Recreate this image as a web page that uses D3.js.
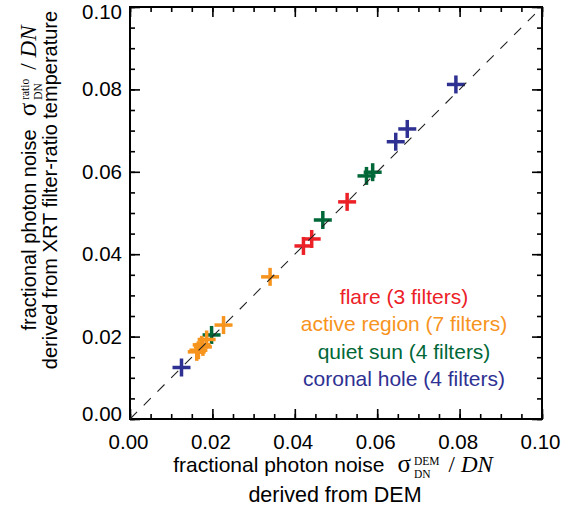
<!DOCTYPE html>
<html><head><meta charset="utf-8">
<script src="https://cdn.jsdelivr.net/npm/d3@7"></script>
<style>
body{margin:0;background:#fff;}
svg{display:block;}
</style></head>
<body>
<svg id="chart" width="564" height="512"></svg>
<script>
// ---- data ----
const seriesNames = ["coronal hole (4 filters)", "quiet sun (4 filters)", "active region (7 filters)", "flare (3 filters)"];
const seriesColors = ["#2e3192", "#006838", "#f7941e", "#ec2127"];
const coronalHoleX = [0.0791, 0.0673, 0.0645, 0.0125];
const coronalHoleY = [0.0812, 0.0704, 0.0673, 0.0125];
const quietSunX = [0.0574, 0.0589, 0.0468, 0.0198];
const quietSunY = [0.0590, 0.0599, 0.0483, 0.0204];
const activeRegionX = [0.0340, 0.0227, 0.0186, 0.0177, 0.0174, 0.0166, 0.0162];
const activeRegionY = [0.0345, 0.0228, 0.0193, 0.0175, 0.0180, 0.0167, 0.0163];
const flareX = [0.0527, 0.0441, 0.0421];
const flareY = [0.0527, 0.0437, 0.0420];
const legendOrder = ["flare (3 filters)", "active region (7 filters)", "quiet sun (4 filters)", "coronal hole (4 filters)"];
const majorTicks = [0, 0.02, 0.04, 0.06, 0.08, 0.10];
const tickLabels = ["0.00", "0.02", "0.04", "0.06", "0.08", "0.10"];
const minorTicks = d3.range(0, 21).map(i => i * 0.005);

const seriesData = [
  {xs: coronalHoleX, ys: coronalHoleY},
  {xs: quietSunX, ys: quietSunY},
  {xs: activeRegionX, ys: activeRegionY},
  {xs: flareX, ys: flareY}
];

// ---- layout ----
const L = 130, R = 542, T = 7, B = 419;
const x = d3.scaleLinear().domain([0, 0.1]).range([L, R]);
const y = d3.scaleLinear().domain([0, 0.1]).range([B, T]);
const svg = d3.select("#chart");
const sans = "'Liberation Sans', Arial, Helvetica, sans-serif";
const serif = "'Liberation Serif', 'Times New Roman', serif";

function styleAxis(g){
  g.select(".domain").remove();
  g.selectAll(".tick line").attr("stroke", "#000").attr("stroke-width", 1.6);
}
// minor ticks (all four sides, inward)
svg.append("g").attr("transform", `translate(0,${B})`)
  .call(d3.axisBottom(x).tickValues(minorTicks).tickSize(-5).tickFormat("")).call(styleAxis);
svg.append("g").attr("transform", `translate(0,${T})`)
  .call(d3.axisTop(x).tickValues(minorTicks).tickSize(-5).tickFormat("")).call(styleAxis);
svg.append("g").attr("transform", `translate(${L},0)`)
  .call(d3.axisLeft(y).tickValues(minorTicks).tickSize(-5).tickFormat("")).call(styleAxis);
svg.append("g").attr("transform", `translate(${R},0)`)
  .call(d3.axisRight(y).tickValues(minorTicks).tickSize(-5).tickFormat("")).call(styleAxis);

// major ticks
const fmt = (d, i) => tickLabels[i];
const xb = svg.append("g").attr("transform", `translate(0,${B})`)
  .call(d3.axisBottom(x).tickValues(majorTicks).tickSize(-10).tickPadding(15).tickFormat(fmt)).call(styleAxis);
xb.selectAll("text").attr("font-family", sans).attr("font-size", 20.5).attr("fill", "#000").attr("dx", -2);
svg.append("g").attr("transform", `translate(0,${T})`)
  .call(d3.axisTop(x).tickValues(majorTicks).tickSize(-10).tickFormat("")).call(styleAxis);
const yl = svg.append("g").attr("transform", `translate(${L},0)`)
  .call(d3.axisLeft(y).tickValues(majorTicks).tickSize(-10).tickPadding(8).tickFormat(fmt)).call(styleAxis);
yl.selectAll("text").attr("font-family", sans).attr("font-size", 20.5).attr("fill", "#000")
  .attr("dy", (d, i) => i === 0 ? "0.07em" : (i === majorTicks.length - 1 ? "0.57em" : "0.32em"));
svg.append("g").attr("transform", `translate(${R},0)`)
  .call(d3.axisRight(y).tickValues(majorTicks).tickSize(-10).tickFormat("")).call(styleAxis);

// frame
svg.append("rect").attr("x", L).attr("y", T).attr("width", R - L).attr("height", B - T)
  .attr("fill", "none").attr("stroke", "#000").attr("stroke-width", 2);

// points (plus markers)
const half = 9;
seriesData.forEach((s, si) => {
  const g = svg.append("g").attr("stroke", seriesColors[si]).attr("stroke-width", 3.5);
  s.xs.forEach((xv, i) => {
    const cx = x(xv), cy = y(s.ys[i]);
    g.append("line").attr("x1", cx - half).attr("x2", cx + half).attr("y1", cy).attr("y2", cy);
    g.append("line").attr("x1", cx).attr("x2", cx).attr("y1", cy - half).attr("y2", cy + half);
  });
});

// 1:1 dashed line
svg.append("line").attr("x1", x(0)).attr("y1", y(0)).attr("x2", x(0.1)).attr("y2", y(0.1))
  .attr("stroke", "#222").attr("stroke-width", 1.1).attr("stroke-dasharray", "10,9.4");

// legend
legendOrder.forEach((name, i) => {
  const si = seriesNames.indexOf(name);
  svg.append("text").attr("x", 404).attr("y", 304 + i * 27.3)
    .attr("text-anchor", "middle").attr("font-family", sans).attr("font-size", 21)
    .attr("fill", seriesColors[si]).text(name);
});

// rich title layout
function richTitle(parent, pieces) {
  const g = parent.append("g");
  let cursor = 0;
  pieces.forEach(p => {
    cursor += p.gap || 0;
    if (p.stack) {
      let w = 0;
      p.stack.forEach(s => {
        const t = g.append("text").attr("x", cursor).attr("y", s.shift)
          .attr("font-family", s.family).attr("font-size", s.size).text(s.text);
        w = Math.max(w, t.node().getComputedTextLength());
      });
      cursor += w;
    } else {
      const t = g.append("text").attr("x", cursor).attr("y", p.shift || 0)
        .attr("font-family", p.family).attr("font-size", p.size)
        .attr("font-style", p.style || "normal").text(p.text);
      cursor += t.node().getComputedTextLength();
    }
  });
  g.selectAll("text").attr("fill", "#000");
  return {g, width: cursor};
}
function photonPieces(sup, mainSize) {
  return [
    {text: "fractional photon noise", family: sans, size: mainSize},
    {text: "σ", family: serif, size: 25, gap: 13},
    {stack: [
      {text: sup, family: serif, size: 11.5, shift: -7},
      {text: "DN", family: serif, size: 11.5, shift: 6}
    ], gap: 3},
    {text: "/", family: serif, size: 23, gap: 9},
    {text: "DN", family: serif, size: 23, style: "italic", gap: 6}
  ];
}

// x title
const xt1 = richTitle(svg, photonPieces("DEM", 21));
xt1.g.attr("transform", `translate(${333 - xt1.width / 2},472)`);
svg.append("text").attr("x", 335).attr("y", 502).attr("text-anchor", "middle")
  .attr("font-family", sans).attr("font-size", 21.5).attr("fill", "#000").text("derived from DEM");

// y title
const yg = svg.append("g").attr("transform", "translate(36,0) rotate(-90)");
const yt1 = richTitle(yg, photonPieces("ratio", 20));
yt1.g.attr("transform", `translate(${-(178 + yt1.width / 2)},0)`);
svg.append("text").attr("transform", "translate(57,190) rotate(-90)").attr("text-anchor", "middle")
  .attr("font-family", sans).attr("font-size", 20).attr("fill", "#000")
  .text("derived from XRT filter-ratio temperature");
</script>
</body></html>
